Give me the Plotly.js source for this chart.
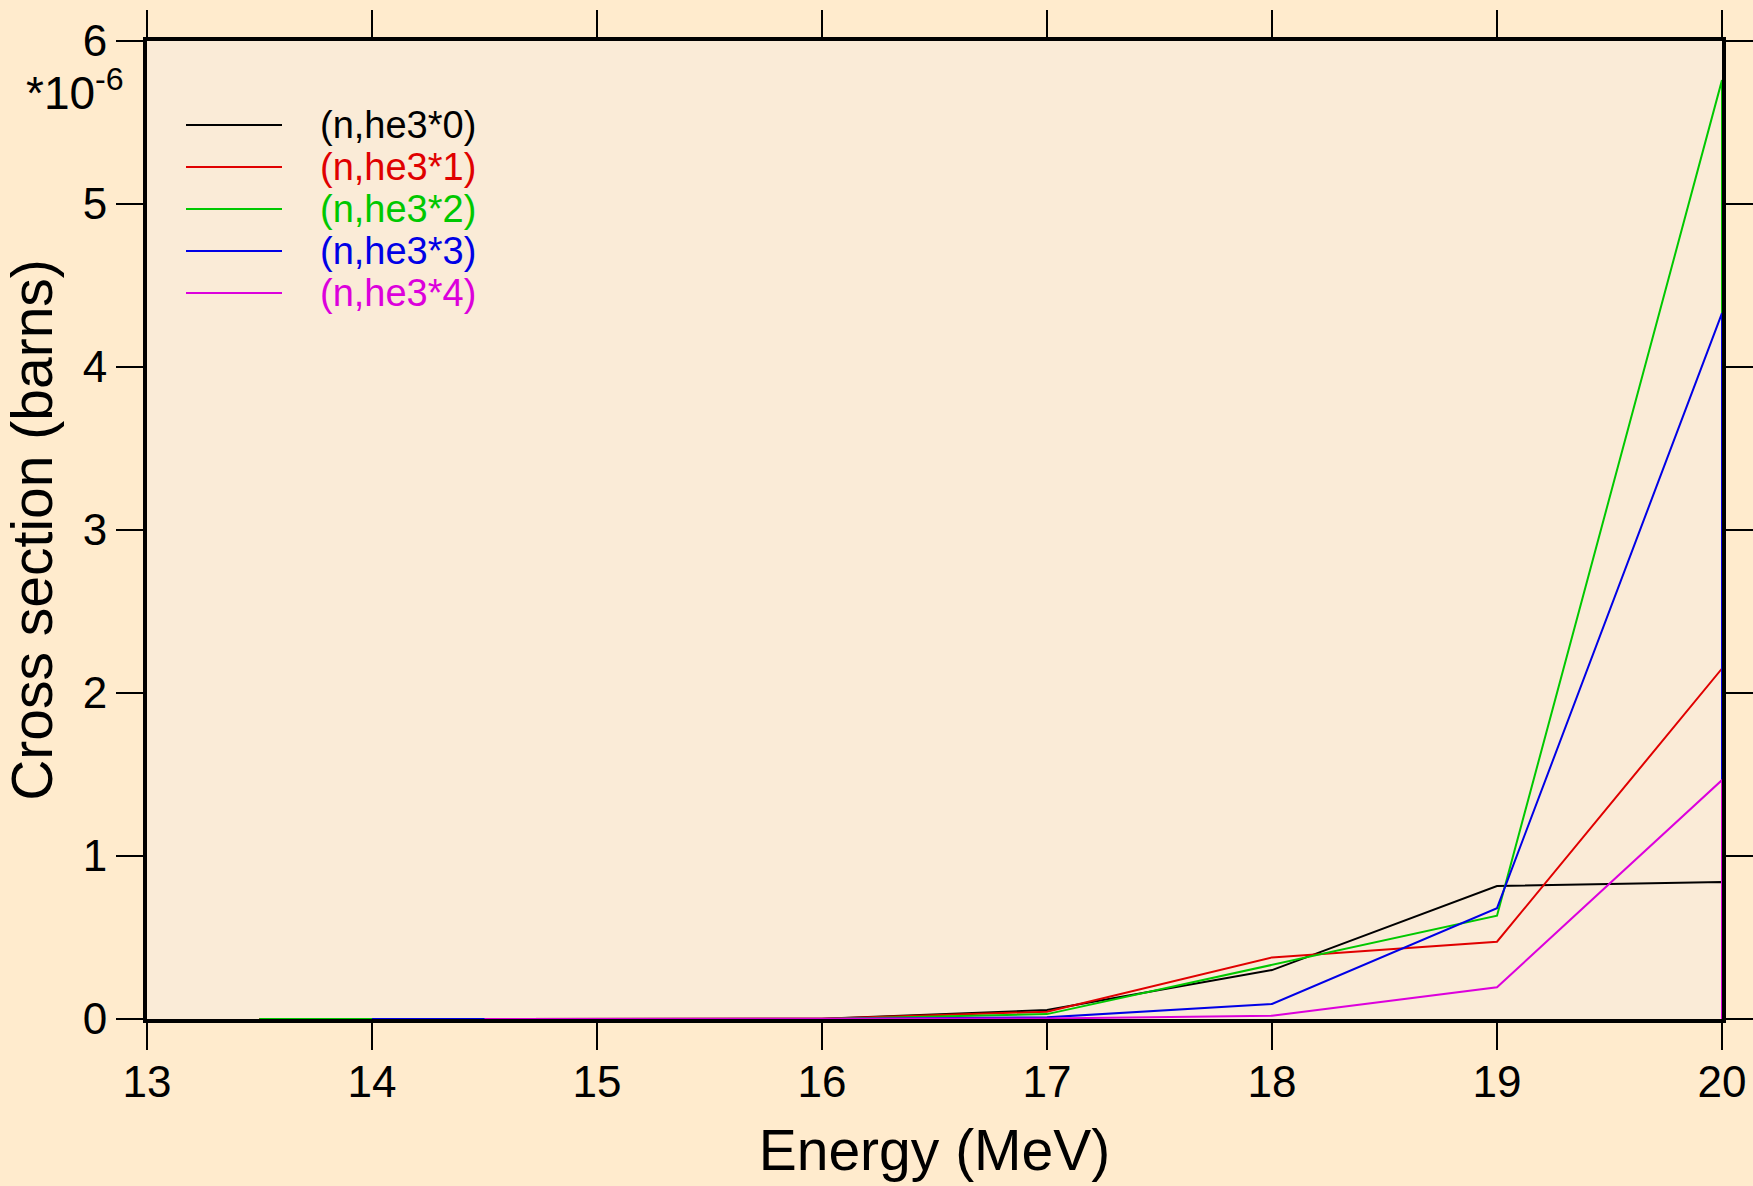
<!DOCTYPE html>
<html>
<head>
<meta charset="utf-8">
<script src="https://cdn.plot.ly/plotly-3.0.1.min.js"></script>
<style>html,body{margin:0;padding:0;background:#ffebcd;}</style>
</head>
<body>
<div id="chart" style="width:1753px;height:1186px;"></div>
<script>
// Cross section values in units of 1e-6 barns
var seriesNames = ['(n,he3*0)', '(n,he3*1)', '(n,he3*2)', '(n,he3*3)', '(n,he3*4)'];
var seriesColors = ['#000000', '#e00000', '#00c800', '#0000e6', '#dc00dc'];

var energy0 = [13.5, 14, 15, 16, 17, 18, 19, 20, 20];
var xs0 = [0, 0, 0, 0.001, 0.055, 0.300, 0.816, 0.840, 0];

var energy1 = [13.5, 14, 15, 16, 17, 18, 19, 20, 20];
var xs1 = [0, 0, 0, 0.001, 0.045, 0.378, 0.474, 2.150, 0];

var energy2 = [13.5, 14, 15, 16, 17, 18, 19, 20, 20];
var xs2 = [0, 0, 0, 0.0005, 0.030, 0.330, 0.634, 5.760, 0];

var energy3 = [14, 15, 16, 17, 18, 19, 20, 20];
var xs3 = [0, 0, 0, 0.010, 0.092, 0.680, 4.330, 0];

var energy4 = [14.5, 15, 16, 17, 18, 19, 20, 20];
var xs4 = [0, 0, 0, 0.003, 0.020, 0.195, 1.466, 0];

var xTickVals = [13, 14, 15, 16, 17, 18, 19, 20];
var yTickVals = [0, 1, 2, 3, 4, 5, 6];

var energies = [energy0, energy1, energy2, energy3, energy4];
var values = [xs0, xs1, xs2, xs3, xs4];

var FONT = 'Liberation Sans, Arial, sans-serif';

var traces = [];
for (var i = 0; i < seriesNames.length; i++) {
  traces.push({
    x: energies[i], y: values[i], type: 'scatter', mode: 'lines',
    name: seriesNames[i], line: {color: seriesColors[i], width: 2},
    showlegend: false, cliponaxis: true
  });
}

// Manual legend (long line samples, coloured text)
var shapes = [], annotations = [];
var plotL = 147, plotR = 1722, plotT = 41, plotB = 1019;
function px2x(p) { return (p - plotL) / (plotR - plotL); }
function px2y(p) { return (plotB - p) / (plotB - plotT); }
for (var k = 0; k < seriesNames.length; k++) {
  var yy = px2y(125 + 42 * k);
  shapes.push({type: 'line', xref: 'paper', yref: 'paper',
    x0: px2x(186), x1: px2x(282), y0: yy, y1: yy,
    line: {color: seriesColors[k], width: 2}});
  annotations.push({xref: 'paper', yref: 'paper', x: px2x(318), y: yy,
    xanchor: 'left', yanchor: 'middle', showarrow: false,
    text: seriesNames[k], font: {family: FONT, size: 38, color: seriesColors[k]}});
}
annotations.push({xref: 'paper', yref: 'paper', x: px2x(126), y: px2y(90),
  xanchor: 'right', yanchor: 'middle', showarrow: false,
  text: '*10<sup>-6</sup>', font: {family: FONT, size: 46, color: '#000'}});

var axisCommon = {
  showline: true, linewidth: 4, linecolor: '#000', mirror: 'allticks',
  ticks: 'outside', ticklen: 27, tickwidth: 2, tickcolor: '#000',
  showgrid: false, zeroline: false,
  tickfont: {family: FONT, size: 44, color: '#000'}
};

var layout = {
  width: 1753, height: 1186,
  paper_bgcolor: '#ffebcd', plot_bgcolor: '#faebd7',
  margin: {l: plotL, r: 1753 - plotR, t: plotT, b: 1186 - plotB},
  xaxis: Object.assign({}, axisCommon, {
    range: [13, 20], tickvals: xTickVals, ticktext: xTickVals.map(String),
    ticklabelstandoff: -6,
    title: {text: 'Energy (MeV)', font: {family: FONT, size: 57, color: '#000'}, standoff: 26}
  }),
  yaxis: Object.assign({}, axisCommon, {
    range: [0, 6], tickvals: yTickVals, ticktext: yTickVals.map(String),
    title: {text: 'Cross section (barns)', font: {family: FONT, size: 57, color: '#000'}, standoff: 14}
  }),
  shapes: shapes,
  annotations: annotations,
  showlegend: false
};

Plotly.newPlot('chart', traces, layout, {displayModeBar: false, staticPlot: true});
</script>
</body>
</html>
